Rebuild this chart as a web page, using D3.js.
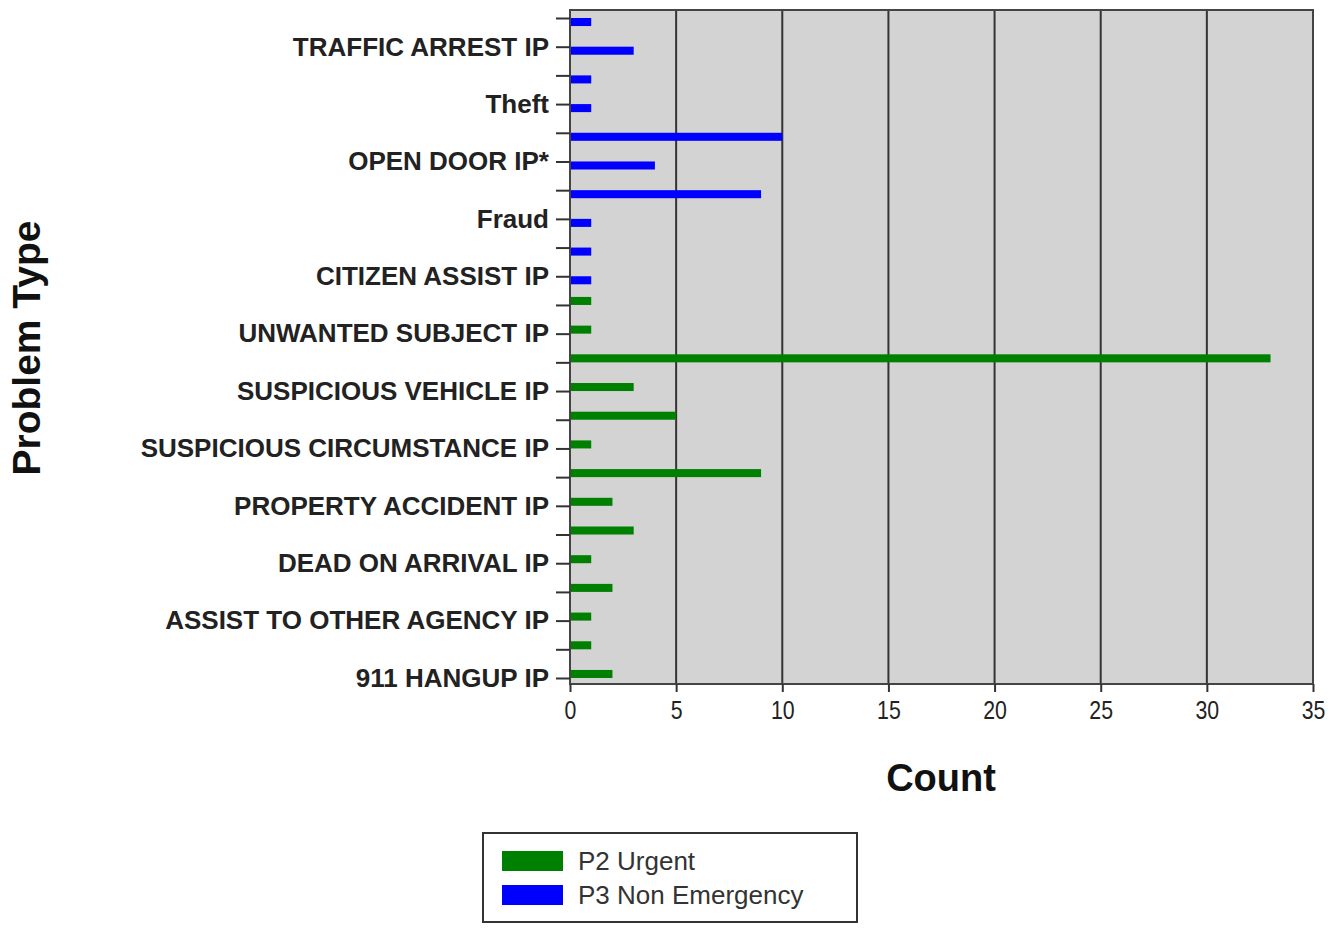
<!DOCTYPE html>
<html>
<head>
<meta charset="utf-8">
<script src="https://cdn.jsdelivr.net/npm/d3@7/dist/d3.min.js"></script>
<style>
  html, body { margin: 0; padding: 0; background: #fff; }
  svg { display: block; }
  text { font-family: "Liberation Sans", Arial, sans-serif; }
</style>
</head>
<body>
<svg id="chart" width="1335" height="931"></svg>
<script>
// Rows top to bottom; only every other row carries a visible label
const categories = [
  "", "TRAFFIC ARREST IP", "", "Theft", "", "OPEN DOOR IP*", "", "Fraud",
  "", "CITIZEN ASSIST IP", "", "UNWANTED SUBJECT IP", "", "SUSPICIOUS VEHICLE IP",
  "", "SUSPICIOUS CIRCUMSTANCE IP", "", "PROPERTY ACCIDENT IP", "", "DEAD ON ARRIVAL IP",
  "", "ASSIST TO OTHER AGENCY IP", "", "911 HANGUP IP"
];
const seriesNames = ["P2 Urgent", "P3 Non Emergency"];
const seriesColors = ["#008000", "#0000ff"];
const p2Urgent = [0,0,0,0,0,0,0,0,0,0, 1,1,33,3,5,1,9,2,3,1,2,1,1,2];
const p3NonEmergency = [1,3,1,1,10,4,9,1,1,1, 0,0,0,0,0,0,0,0,0,0,0,0,0,0];
const xTicks = [0,5,10,15,20,25,30,35];
const xTitle = "Count";
const yTitle = "Problem Type";

const svg = d3.select("#chart");
const plot = { left: 570, right: 1313, top: 10, bottom: 684 };

const idx = categories.map((d, i) => i);
const x = d3.scaleLinear().domain([0, 35]).range([plot.left, plot.right]);
const y = d3.scalePoint().domain(idx).range([plot.top + 8, plot.bottom - 6]);
const step = y.step();
const y1 = d3.scaleBand().domain(seriesNames).range([-step * 0.28, step * 0.28]);

// background
svg.append("rect")
  .attr("x", plot.left).attr("y", plot.top)
  .attr("width", plot.right - plot.left).attr("height", plot.bottom - plot.top)
  .attr("fill", "#d3d3d3");

// vertical grid lines
svg.append("g").selectAll("line")
  .data(xTicks.filter(t => t > 0 && t < 35))
  .join("line")
  .attr("x1", d => x(d)).attr("x2", d => x(d))
  .attr("y1", plot.top).attr("y2", plot.bottom)
  .attr("stroke", "#333").attr("stroke-width", 2);

// bars
const data = [];
idx.forEach(i => {
  data.push({ i, s: seriesNames[0], v: p2Urgent[i], c: seriesColors[0] });
  data.push({ i, s: seriesNames[1], v: p3NonEmergency[i], c: seriesColors[1] });
});
svg.append("g").selectAll("rect")
  .data(data.filter(d => d.v > 0))
  .join("rect")
  .attr("x", x(0))
  .attr("y", d => y(d.i) + y1(d.s))
  .attr("width", d => x(d.v) - x(0))
  .attr("height", y1.bandwidth())
  .attr("fill", d => d.c);

// frame
svg.append("rect")
  .attr("x", plot.left).attr("y", plot.top)
  .attr("width", plot.right - plot.left).attr("height", plot.bottom - plot.top)
  .attr("fill", "none").attr("stroke", "#444").attr("stroke-width", 2);

// x axis
const xAxis = svg.append("g")
  .attr("transform", `translate(0,${plot.bottom})`)
  .call(d3.axisBottom(x).tickValues(xTicks).tickSize(8).tickPadding(9).tickFormat(d3.format("d")));
xAxis.select(".domain").remove();
xAxis.selectAll(".tick line").attr("stroke", "#333").attr("stroke-width", 2);
xAxis.selectAll(".tick text")
  .attr("font-size", 26).attr("fill", "#222")
  .attr("transform", "scale(0.82,1)");

// y axis
const yAxis = svg.append("g")
  .attr("transform", `translate(${plot.left},0)`)
  .call(d3.axisLeft(y).tickSize(14).tickPadding(7).tickFormat(i => categories[i]));
yAxis.select(".domain").remove();
yAxis.selectAll(".tick line").attr("stroke", "#333").attr("stroke-width", 2);
yAxis.selectAll(".tick text")
  .attr("font-size", 26).attr("font-weight", "bold").attr("fill", "#222");

// axis titles
svg.append("text")
  .attr("x", 941).attr("y", 791)
  .attr("text-anchor", "middle")
  .attr("font-size", 38).attr("font-weight", "bold").attr("fill", "#111")
  .text(xTitle);
svg.append("text")
  .attr("transform", "translate(40,348) rotate(-90)")
  .attr("text-anchor", "middle")
  .attr("font-size", 39).attr("font-weight", "bold").attr("fill", "#111")
  .text(yTitle);

// legend
const legend = svg.append("g");
legend.append("rect")
  .attr("x", 483).attr("y", 833).attr("width", 374).attr("height", 89)
  .attr("fill", "#fff").attr("stroke", "#333").attr("stroke-width", 2);
seriesNames.forEach((name, k) => {
  const ly = 851 + k * 34;
  legend.append("rect")
    .attr("x", 502).attr("y", ly).attr("width", 61).attr("height", 20)
    .attr("fill", seriesColors[k]);
  legend.append("text")
    .attr("x", 578).attr("y", ly + 10).attr("dy", "0.35em")
    .attr("font-size", 26).attr("fill", "#333")
    .text(name);
});
</script>
</body>
</html>
